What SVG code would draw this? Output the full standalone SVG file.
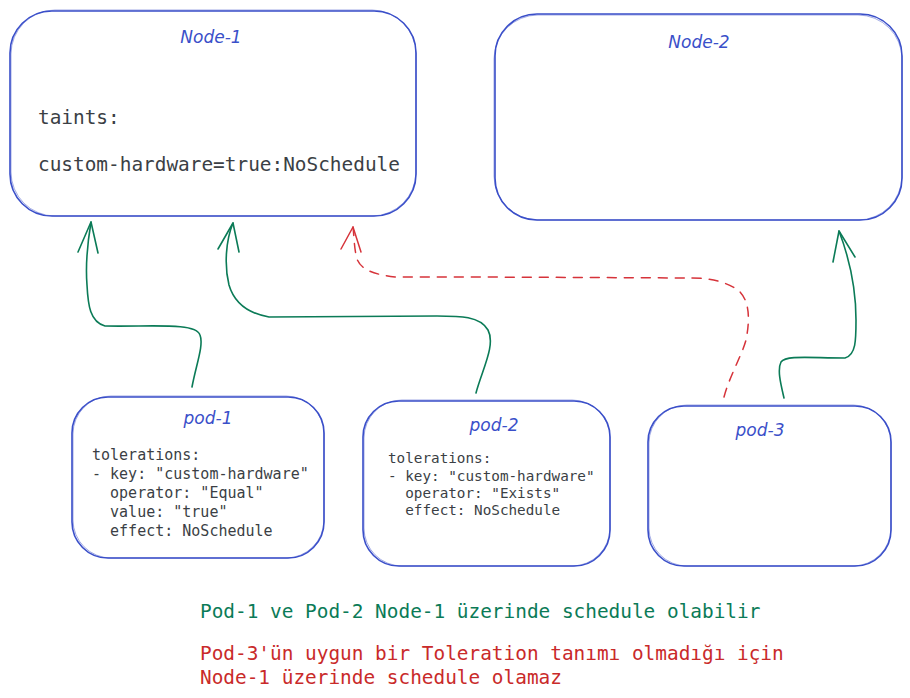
<svg xmlns="http://www.w3.org/2000/svg" width="910" height="698" viewBox="0 0 910 698">
<defs>
<style>
.box{fill:#ffffff;stroke:#3a4fc9;stroke-width:1.6}
.box2{fill:none;stroke:#3a4fc9;stroke-width:0.8;opacity:0.6}
.hand{font-family:"DejaVu Sans","Noto Sans",sans-serif;font-style:italic;fill:#3a4fc9;text-anchor:middle;font-size:17px}
.mono{font-family:"DejaVu Sans Mono","Liberation Mono",monospace;fill:#3b3f45}
.g{fill:none;stroke:#0b7b57;stroke-width:1.6;stroke-linecap:round;stroke-linejoin:round}
.r{fill:none;stroke:#d6333a;stroke-width:1.5;stroke-linecap:round;stroke-linejoin:round}
.rd{stroke-dasharray:9 8}
.note{font-family:"DejaVu Sans Mono","Liberation Mono",monospace;font-size:19.4px}
</style>
</defs>
<rect width="910" height="698" fill="#ffffff"/>
<g id="node-1">
<rect class="box" x="10" y="11" width="406" height="205" rx="42"/>
<rect class="box2" x="11" y="10" width="405" height="206" rx="44"/>
<text class="hand" x="211" y="43">Node-1</text>
<text class="mono" x="38" y="124" font-size="19.4">taints:</text>
<text class="mono" x="38" y="171" font-size="19.4">custom-hardware=true:NoSchedule</text>
</g>
<g id="node-2">
<rect class="box" x="495" y="14" width="407" height="206" rx="42"/>
<rect class="box2" x="494" y="15" width="408" height="205" rx="44"/>
<text class="hand" x="699" y="48">Node-2</text>
</g>
<g id="pod-1">
<rect class="box" x="72" y="397" width="252" height="161" rx="36"/>
<rect class="box2" x="73" y="396" width="251" height="162" rx="38"/>
<text class="hand" x="208" y="424">pod-1</text>
<text class="mono" font-size="15" xml:space="preserve"><tspan x="92" y="460">tolerations:</tspan><tspan x="92" y="479">- key: "custom-hardware"</tspan><tspan x="92" y="498">  operator: "Equal"</tspan><tspan x="92" y="517">  value: "true"</tspan><tspan x="92" y="536">  effect: NoSchedule</tspan></text>
</g>
<g id="pod-2">
<rect class="box" x="363" y="401" width="247" height="165" rx="36"/>
<rect class="box2" x="364" y="400" width="246" height="166" rx="38"/>
<text class="hand" x="494" y="431">pod-2</text>
<text class="mono" font-size="14.3" xml:space="preserve"><tspan x="388" y="463">tolerations:</tspan><tspan x="388" y="481">- key: "custom-hardware"</tspan><tspan x="388" y="498">  operator: "Exists"</tspan><tspan x="388" y="515">  effect: NoSchedule</tspan></text>
</g>
<g id="pod-3">
<rect class="box" x="648" y="406" width="243" height="160" rx="36"/>
<rect class="box2" x="649" y="405" width="242" height="161" rx="38"/>
<text class="hand" x="760" y="436">pod-3</text>
</g>
<g id="connectors">
<path class="g" d="M192 387 C196 365 204 345 200 335 C196 322 150 327 105 326 C90 322 88 305 87 285 C85 260 88 240 91 222"/>
<path class="g" d="M78 252 L91 222 L98 253"/>
<path class="g" d="M476 393 C482 370 496 345 488 330 C480 316 460 316 437 316 L269 317 C246 313 234 302 229 285 C224 265 226 240 233 223"/>
<path class="g" d="M218 249 L233 223 L239 252"/>
<path class="r rd" d="M724 397 C730 375 742 355 746 340 C750 320 750 300 738 290 C720 278 700 278 688 278 L478 277 L395 277 C370 274 358 268 356 255 C354 245 354 235 353 227"/>
<path class="r" d="M341 249 L353 227 L361 252"/>
<path class="g" d="M784 398 C781 385 777 370 781 362 C786 355 810 358 845 358 C856 355 856 340 856 320 C856 290 850 260 839 231"/>
<path class="g" d="M833 262 L839 231 L855 257"/>
</g>
<g id="notes">
<text class="note" x="200" y="618" fill="#0b7b57">Pod-1 ve Pod-2 Node-1 üzerinde schedule olabilir</text>
<text class="note" x="200" y="660" fill="#c92a2a">Pod-3'ün uygun bir Toleration tanımı olmadığı için</text>
<text class="note" x="200" y="684" fill="#c92a2a">Node-1 üzerinde schedule olamaz</text>
</g>
</svg>
